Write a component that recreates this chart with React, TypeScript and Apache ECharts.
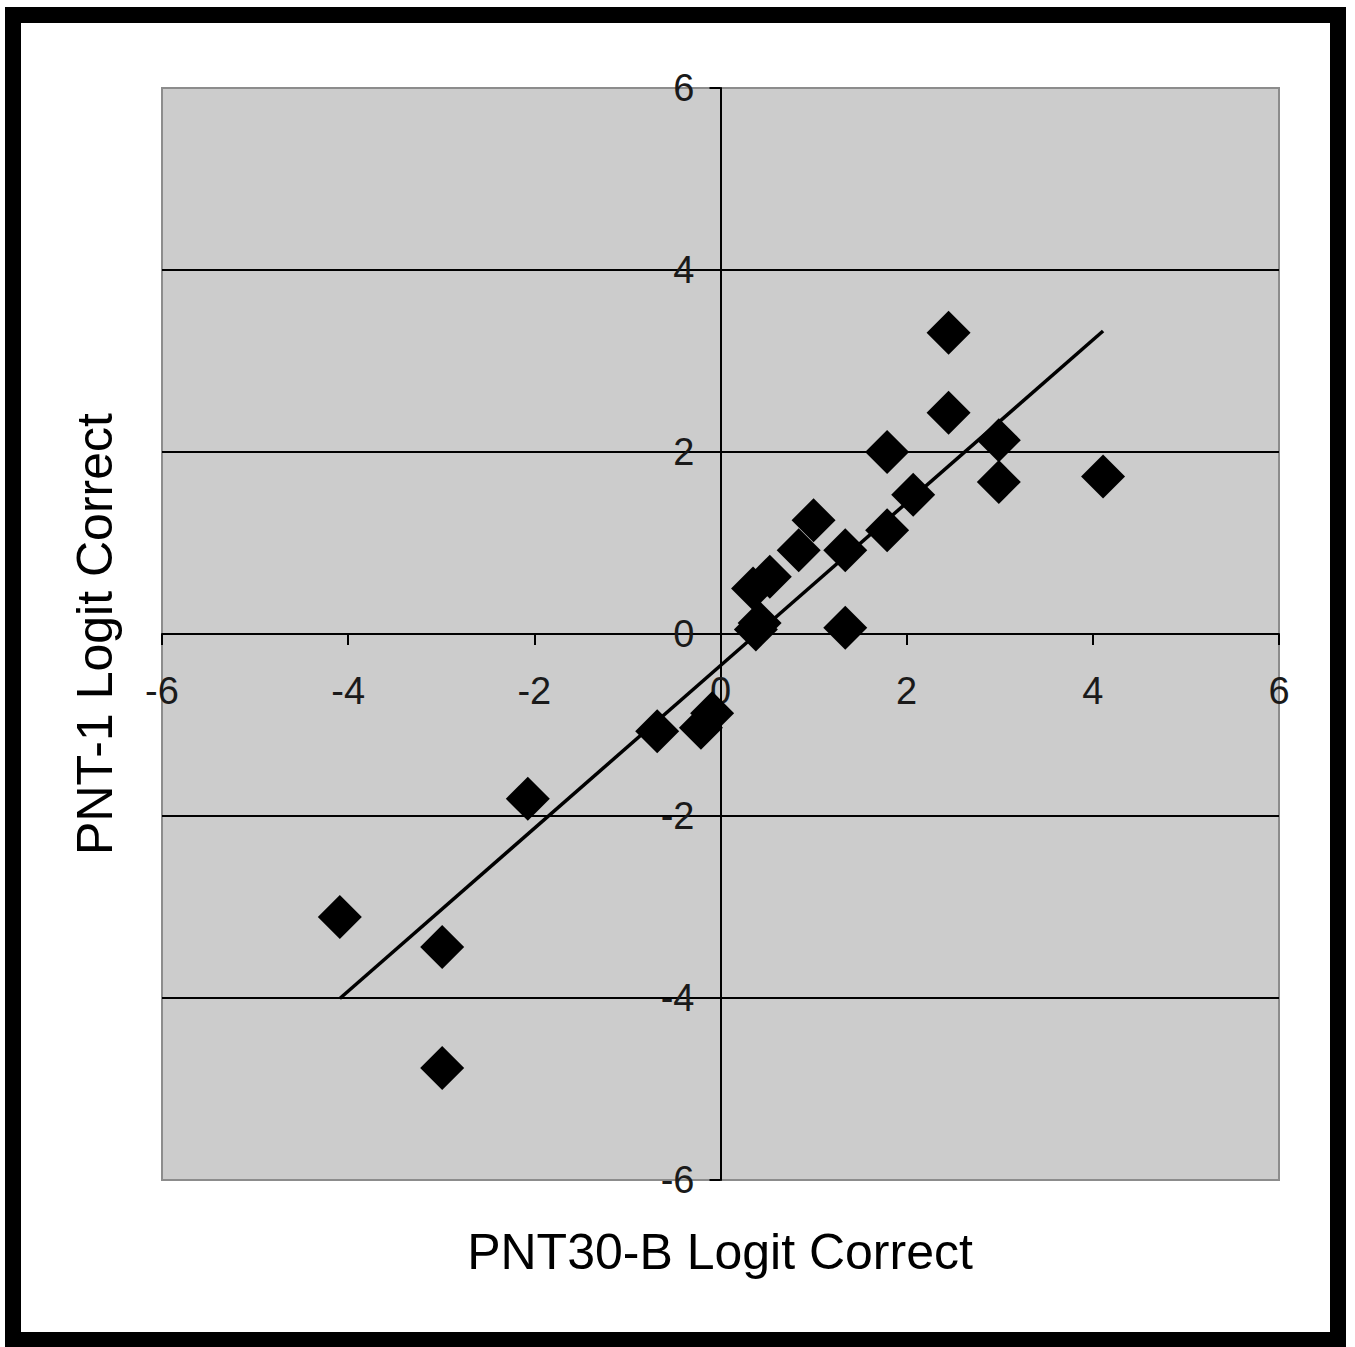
import React, { useEffect, useRef } from "react";
import * as echarts from "echarts";

// PNT30-B logit correct (x) vs PNT-1 logit correct (y)
const pnt30bLogit = [
  -4.09, -2.99, -2.99, -2.07, -0.68, -0.21, -0.09,
  0.38, 0.42, 0.35, 0.53, 0.84, 1.0, 1.34, 1.34,
  1.79, 1.79, 2.07, 2.45, 2.45, 2.99, 2.99, 4.11,
];
const pnt1Logit = [
  -3.11, -3.44, -4.77, -1.81, -1.07, -1.03, -0.87,
  0.05, 0.12, 0.5, 0.63, 0.92, 1.25, 0.92, 0.07,
  1.14, 2.0, 1.53, 2.43, 3.31, 2.13, 1.67, 1.73,
];
const axisMin = -6;
const axisMax = 6;
const axisStep = 2;
const xTitle = "PNT30-B Logit Correct";
const yTitle = "PNT-1 Logit Correct";

const FONT = "'Liberation Sans', Arial, sans-serif";

// layout
const GRID_LEFT = 162;
const GRID_TOP = 88;
const GRID_W = 1117;
const GRID_H = 1092;

function linearFit(xs: number[], ys: number[]) {
  const n = xs.length;
  const mx = xs.reduce((a, b) => a + b, 0) / n;
  const my = ys.reduce((a, b) => a + b, 0) / n;
  let sxy = 0;
  let sxx = 0;
  for (let i = 0; i < n; i++) {
    sxy += (xs[i] - mx) * (ys[i] - my);
    sxx += (xs[i] - mx) * (xs[i] - mx);
  }
  const slope = sxy / sxx;
  return { slope, intercept: my - slope * mx };
}

export default function App() {
  const ref = useRef<HTMLDivElement>(null);

  useEffect(() => {
    document.body.style.margin = "0";
    if (!ref.current) return;
    const chart = echarts.init(ref.current, undefined, { renderer: "svg" });

    const points = pnt30bLogit.map((x, i) => [x, pnt1Logit[i]]);
    const { slope, intercept } = linearFit(pnt30bLogit, pnt1Logit);
    const xMin = Math.min(...pnt30bLogit);
    const xMax = Math.max(...pnt30bLogit);
    const trend = [
      [xMin, intercept + slope * xMin],
      [xMax, intercept + slope * xMax],
    ];

    // place axes through the origin (zero lies in the middle of both ranges)
    const zeroFracX = (0 - axisMin) / (axisMax - axisMin);
    const zeroFracY = (axisMax - 0) / (axisMax - axisMin);
    const xAxisOffset = -(GRID_H * (1 - zeroFracY));
    const yAxisOffset = -(GRID_W * zeroFracX);

    const axisCommon = {
      type: "value" as const,
      min: axisMin,
      max: axisMax,
      interval: axisStep,
      axisLine: { show: true, onZero: false, lineStyle: { color: "#000", width: 2 } },
      axisTick: { show: true, inside: false, length: 11, lineStyle: { color: "#000", width: 2 } },
      axisLabel: { fontSize: 38, color: "#1a1a1a", fontFamily: FONT },
    };

    chart.setOption({
      animation: false,
      backgroundColor: "#ffffff",
      grid: {
        left: GRID_LEFT,
        top: GRID_TOP,
        width: GRID_W,
        height: GRID_H,
        show: true,
        backgroundColor: "#cccccc",
        borderColor: "#8c8c8c",
        borderWidth: 2,
      },
      xAxis: {
        ...axisCommon,
        position: "bottom",
        offset: xAxisOffset,
        axisLabel: { ...axisCommon.axisLabel, margin: 38 },
        splitLine: { show: false },
      },
      yAxis: {
        ...axisCommon,
        position: "left",
        offset: yAxisOffset,
        axisLabel: { ...axisCommon.axisLabel, margin: 26 },
        splitLine: {
          show: true,
          lineStyle: {
            color: ["#8c8c8c", "#000", "#000", "#000", "#000", "#000", "#8c8c8c"],
            width: 2,
          },
        },
      },
      series: [
        {
          type: "line",
          data: trend,
          showSymbol: false,
          symbol: "none",
          lineStyle: { color: "#000", width: 3.5 },
          z: 3,
        },
        {
          type: "scatter",
          data: points,
          symbol: "diamond",
          symbolSize: 44,
          itemStyle: { color: "#000", opacity: 1 },
          z: 4,
        },
      ],
      graphic: [
        {
          type: "rect",
          shape: { x: 13, y: 15, width: 1325, height: 1325 },
          style: { fill: "none", stroke: "#000", lineWidth: 16 },
          z: 100,
        },
        {
          type: "text",
          x: 720,
          y: 1252,
          style: {
            text: xTitle,
            font: `50px ${FONT}`,
            fill: "#000",
            textAlign: "center",
            textVerticalAlign: "middle",
          },
          z: 100,
        },
        {
          type: "text",
          x: 95,
          y: 634,
          rotation: Math.PI / 2,
          style: {
            text: yTitle,
            font: `50px ${FONT}`,
            fill: "#000",
            textAlign: "center",
            textVerticalAlign: "middle",
          },
          z: 100,
        },
      ],
    });

    return () => chart.dispose();
  }, []);

  return <div ref={ref} style={{ width: 1355, height: 1347, background: "#fff" }} />;
}
